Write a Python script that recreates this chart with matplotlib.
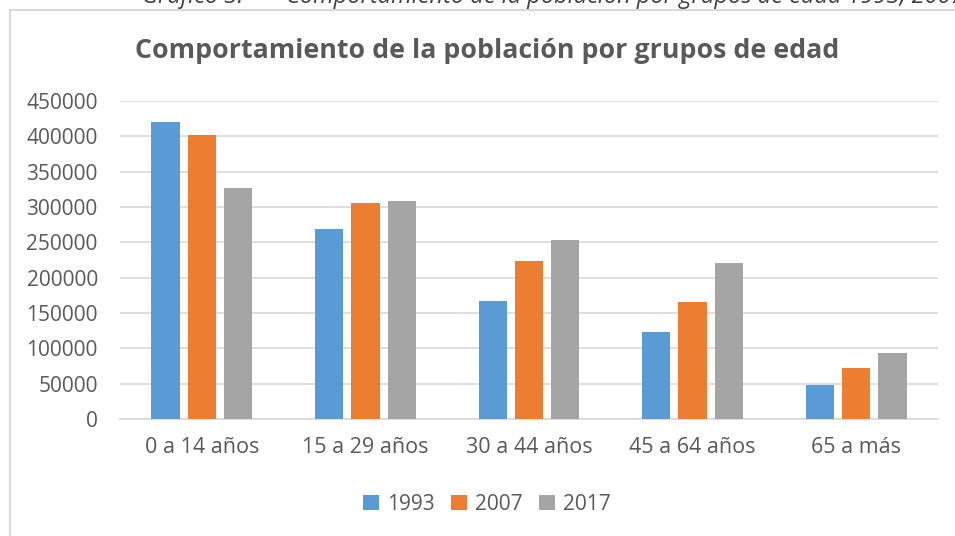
import numpy as np
from matplotlib import pyplot as plt
from matplotlib.patches import Rectangle

grupos = ['0 a 14 años', '15 a 29 años', '30 a 44 años', '45 a 64 años', '65 a más']
anios = ['1993', '2007', '2017']
pob_1993 = [419700, 268700, 167100, 122800, 48600]
pob_2007 = [402300, 305000, 223800, 165300, 72700]
pob_2017 = [326800, 308800, 253100, 220500, 93900]
colores = ['#5B9BD5', '#ED7D31', '#A5A5A5']

plt.rcParams['font.family'] = ['Open Sans', 'DejaVu Sans']
gris = '#595959'

fig = plt.figure(figsize=(9.55, 5.36), dpi=100)

# marco del grafico (cortado a la derecha y abajo)
fig.patches.append(Rectangle((10 / 955, -0.05), 1.2, (526 / 536) + 0.05,
                             transform=fig.transFigure, fill=False,
                             edgecolor='#D9D9D9', linewidth=1.5))

# leyenda del documento, cortada arriba como en el original
fig.text(142 / 955, 1 - 3 / 536, 'Gráfico 3:', style='italic', fontsize=17,
         color='#404040', va='baseline')
fig.text(286 / 955, 1 - 3 / 536,
         'Comportamiento de la población por grupos de edad 1993, 2007 y 2017',
         style='italic', fontsize=17, color='#404040', va='baseline')

ax = fig.add_axes([120 / 955, 1 - 419 / 536, 818 / 955, 318 / 536])

x = np.arange(len(grupos))
ancho = 0.173
paso = 0.222
for i, (serie, anio) in enumerate(zip([pob_1993, pob_2007, pob_2017], anios)):
    ax.bar(x + (i - 1) * paso, serie, ancho, color=colores[i], label=anio, zorder=3)

ax.set_xlim(-0.5, len(grupos) - 0.5)
ax.set_ylim(0, 450000)
ax.set_yticks(range(0, 450001, 50000))
ax.set_xticks(x)
ax.set_xticklabels(grupos)
ax.grid(axis='y', color='#D9D9D9', linewidth=1.2, zorder=0)
for lado in ['top', 'right', 'left']:
    ax.spines[lado].set_visible(False)
ax.spines['bottom'].set_color('#D9D9D9')
ax.spines['bottom'].set_linewidth(1.2)
ax.tick_params(axis='y', length=0, colors=gris, labelsize=15, pad=16)
ax.tick_params(axis='x', length=0, colors=gris, labelsize=15.5, pad=13)

fig.text(487 / 955, 1 - 51 / 536, 'Comportamiento de la población por grupos de edad',
         fontsize=19.3, fontweight='bold', color=gris, ha='center', va='center')

ax.legend(loc='center', bbox_to_anchor=(487 / 955, 1 - 504 / 536),
          bbox_transform=fig.transFigure, ncol=3, frameon=False, fontsize=15,
          labelcolor=gris, handlelength=0.75, handleheight=0.75,
          handletextpad=0.4, columnspacing=0.8)

plt.savefig('out.png', dpi=100)
